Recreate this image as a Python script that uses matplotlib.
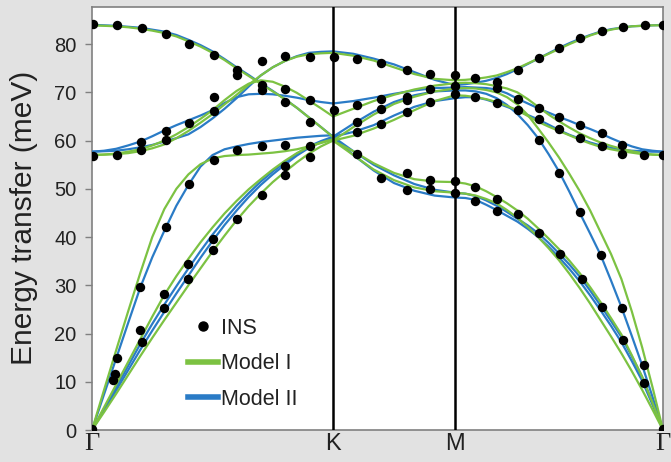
import numpy as np
import matplotlib
matplotlib.use("Agg")
import matplotlib.pyplot as plt
from matplotlib.lines import Line2D

# ---------------- data ----------------
# path coordinate: Gamma=0, K, M, Gamma=1
K_POS = 0.4221
M_POS = 0.6357
tick_positions = [0.0, K_POS, M_POS, 1.0]
tick_labels = ["\u0393", "K", "M", "\u0393"]

# Model I (green): Gamma-K (21 samples), K-M (7 samples), M-Gamma (21 samples)
m1_GK = [
    [83.9, 83.8, 83.7, 83.5, 83.2, 82.8, 82.3, 81.6, 80.6, 79.5, 78.2, 76.7, 75.0, 73.4, 71.8, 70.2, 68.6, 66.8, 64.8, 62.8, 60.7],
    [57.0, 57.1, 57.2, 57.4, 57.8, 58.4, 59.2, 60.5, 62.0, 63.7, 65.5, 67.5, 69.5, 71.6, 73.5, 75.2, 76.5, 77.4, 77.9, 78.1, 78.2],
    [57.0, 57.1, 57.3, 57.7, 58.2, 59.0, 60.0, 61.3, 62.8, 64.5, 66.3, 68.4, 70.3, 71.8, 72.5, 72.2, 71.2, 69.9, 68.3, 66.7, 65.0],
    [0.0, 8.3, 16.5, 24.6, 32.5, 40.0, 45.8, 50.0, 53.0, 55.1, 56.3, 56.8, 57.0, 57.1, 57.3, 57.5, 57.8, 58.2, 58.8, 59.5, 60.2],
    [0.0, 4.7, 9.4, 14.1, 18.8, 23.5, 28.0, 31.9, 35.5, 38.9, 42.0, 44.9, 47.5, 49.9, 52.0, 54.0, 55.8, 57.4, 58.7, 59.6, 60.3],
    [0.0, 3.7, 7.5, 11.4, 15.3, 19.1, 22.8, 26.4, 30.0, 33.5, 37.0, 40.3, 43.5, 46.4, 49.0, 51.4, 53.5, 55.5, 57.3, 58.8, 60.0],
]
m1_KM = [
    [78.2, 77.6, 76.6, 75.2, 73.8, 72.8, 72.5],
    [65.0, 66.6, 68.2, 69.5, 70.6, 71.4, 71.9],
    [60.0, 62.8, 65.4, 67.6, 69.1, 70.2, 70.8],
    [60.0, 61.0, 62.5, 64.3, 66.3, 68.2, 69.4],
    [60.0, 57.8, 55.3, 53.3, 52.0, 51.5, 51.4],
    [60.0, 57.0, 54.0, 51.8, 50.3, 49.5, 49.2],
]
m1_MG = [
    [72.5, 72.6, 72.8, 73.1, 73.5, 74.2, 75.0, 76.0, 77.0, 78.0, 79.0, 80.0, 80.9, 81.8, 82.5, 83.0, 83.4, 83.7, 83.8, 83.9, 83.9],
    [71.9, 72.0, 71.9, 71.7, 71.3, 70.8, 70.0, 68.6, 67.0, 65.4, 64.0, 62.7, 61.5, 60.5, 59.6, 58.9, 58.3, 57.8, 57.4, 57.1, 57.0],
    [69.4, 69.3, 69.0, 68.6, 68.0, 67.2, 66.3, 65.1, 63.9, 62.9, 62.0, 61.1, 60.2, 59.4, 58.7, 58.2, 57.8, 57.5, 57.2, 57.1, 57.0],
    [70.8, 70.9, 70.8, 70.5, 70.0, 69.0, 67.5, 65.3, 62.5, 59.6, 56.5, 53.1, 49.5, 45.5, 41.0, 36.5, 31.3, 24.6, 17.1, 8.8, 0.0],
    [51.4, 51.1, 50.5, 49.5, 48.3, 47.0, 45.5, 43.8, 41.8, 39.7, 37.5, 35.1, 32.5, 29.6, 26.5, 23.2, 19.8, 15.5, 11.0, 5.6, 0.0],
    [49.2, 49.0, 48.6, 47.9, 47.0, 45.6, 44.0, 42.1, 40.0, 37.7, 35.2, 32.4, 29.4, 26.2, 22.8, 19.4, 15.9, 12.2, 8.3, 4.2, 0.0],
]

# Model II (blue)
m2_GK = [
    [84.0, 83.9, 83.8, 83.6, 83.4, 83.0, 82.6, 81.9, 80.9, 79.8, 78.5, 76.9, 75.2, 73.6, 71.9, 70.3, 68.6, 66.8, 64.8, 62.8, 60.8],
    [57.7, 57.8, 57.9, 58.2, 58.6, 59.1, 59.8, 60.5, 61.3, 62.8, 64.6, 66.6, 68.8, 71.2, 73.5, 75.2, 76.5, 77.5, 78.2, 78.4, 78.5],
    [57.7, 57.9, 58.3, 59.0, 59.8, 60.9, 62.1, 63.2, 64.2, 65.2, 66.3, 67.8, 69.0, 69.6, 69.7, 69.6, 69.3, 68.9, 68.4, 68.0, 67.7],
    [0.0, 7.4, 14.8, 22.2, 29.5, 35.8, 41.3, 46.5, 50.8, 54.6, 57.0, 58.2, 58.8, 59.3, 59.7, 60.0, 60.3, 60.6, 60.8, 61.0, 61.1],
    [0.0, 4.4, 8.8, 13.3, 17.8, 22.0, 26.0, 29.8, 33.5, 37.1, 40.5, 43.6, 46.5, 49.1, 51.5, 53.6, 55.5, 57.3, 58.8, 59.9, 60.8],
    [0.0, 4.1, 8.2, 12.4, 16.6, 20.6, 24.5, 28.3, 32.0, 35.7, 39.2, 42.5, 45.5, 48.3, 50.8, 53.0, 55.0, 56.9, 58.5, 59.7, 60.6],
]
m2_KM = [
    [78.5, 78.0, 77.0, 75.8, 74.2, 72.6, 71.5],
    [67.7, 68.2, 68.9, 69.7, 70.4, 70.9, 71.0],
    [60.8, 63.5, 66.0, 68.0, 69.4, 70.2, 70.4],
    [60.8, 61.8, 63.2, 65.2, 67.0, 68.2, 68.8],
    [60.8, 57.8, 55.0, 52.8, 51.0, 49.8, 49.2],
    [60.8, 57.0, 53.8, 51.2, 49.6, 48.6, 48.2],
]
m2_MG = [
    [71.5, 71.7, 72.0, 72.4, 73.0, 73.8, 74.8, 75.9, 77.0, 78.1, 79.2, 80.2, 81.1, 81.9, 82.6, 83.1, 83.4, 83.7, 83.8, 83.9, 84.0],
    [71.0, 71.1, 71.0, 70.9, 70.6, 69.8, 68.7, 67.7, 66.7, 65.8, 64.9, 64.1, 63.2, 62.4, 61.5, 60.5, 59.6, 58.8, 58.2, 57.9, 57.7],
    [68.8, 69.0, 69.0, 68.5, 67.8, 67.0, 66.2, 65.3, 64.4, 63.3, 62.2, 61.2, 60.4, 59.6, 59.0, 58.5, 58.1, 57.9, 57.8, 57.7, 57.7],
    [70.4, 70.4, 70.2, 69.7, 68.8, 67.4, 65.5, 63.2, 60.5, 57.2, 53.6, 49.4, 45.0, 40.7, 36.3, 31.0, 25.5, 19.5, 13.4, 6.8, 0.0],
    [49.2, 49.0, 48.5, 47.6, 46.5, 45.2, 43.8, 42.4, 40.8, 38.8, 36.6, 34.3, 31.8, 28.9, 25.8, 22.6, 19.3, 15.3, 11.0, 5.6, 0.0],
    [48.2, 48.1, 47.7, 46.7, 45.6, 44.4, 43.2, 41.7, 40.0, 38.0, 35.8, 33.4, 30.8, 27.9, 24.8, 21.6, 18.2, 14.3, 10.2, 5.2, 0.0],
]

# INS data points (path coordinate, energy in meV)
ins_q = [
    0.001, 0.043, 0.087, 0.129, 0.170, 0.214, 0.254, 0.254, 0.297, 0.338, 0.382, 0.423,
    0.297, 0.297, 0.338, 0.338, 0.382, 0.382, 0.423,
    0.001, 0.043, 0.086, 0.086, 0.129, 0.129, 0.170, 0.214, 0.214,
    0.170, 0.214, 0.254, 0.297, 0.338, 0.382, 0.382, 0.338, 0.338, 0.297, 0.254,
    0.212, 0.212, 0.129,
    0.000, 0.037, 0.040, 0.043, 0.084, 0.084, 0.087, 0.126, 0.126, 0.169, 0.169,
    0.4635, 0.507, 0.551, 0.592, 0.636,
    0.4635, 0.4635, 0.4635, 0.4635, 0.507, 0.507, 0.507, 0.551, 0.551, 0.551,
    0.592, 0.592, 0.636, 0.636,
    0.507, 0.551, 0.551, 0.592, 0.592, 0.636, 0.636,
    0.671, 0.709, 0.746, 0.782, 0.817, 0.855, 0.894, 0.930, 0.968, 1.000,
    0.671, 0.709, 0.709, 0.746, 0.746, 0.782, 0.782, 0.817, 0.817, 0.855, 0.855,
    0.893, 0.893, 0.928, 0.928, 0.966, 1.000,
    0.782, 0.817, 0.855, 0.891, 0.928, 0.966, 1.000,
    0.671, 0.671, 0.709, 0.709, 0.746, 0.782, 0.820, 0.858, 0.894, 0.930, 0.967,
]
ins_E = [
    84.1, 83.9, 83.4, 82.2, 80.1, 77.7, 74.6, 73.6, 76.5, 77.5, 77.4, 77.4,
    71.5, 70.5, 70.8, 68.0, 68.4, 63.9, 66.3,
    56.9, 57.1, 59.8, 58.0, 62.0, 60.1, 63.7, 69.1, 66.1,
    50.9, 56.0, 58.0, 58.9, 59.1, 58.9, 56.6, 54.7, 52.9, 48.8, 43.8,
    39.5, 37.3, 42.1,
    0.3, 10.4, 11.7, 15.0, 29.7, 20.7, 18.3, 28.3, 25.2, 34.5, 31.4,
    77.0, 76.0, 74.6, 73.9, 73.6,
    67.4, 63.9, 61.8, 57.2, 68.7, 66.6, 63.5, 69.1, 68.4, 66.0,
    70.8, 68.0, 71.3, 69.6,
    52.2, 53.2, 49.7, 51.8, 50.0, 51.6, 49.2,
    72.9, 72.2, 74.7, 77.2, 79.1, 81.2, 82.7, 83.6, 83.9, 83.9,
    69.1, 71.0, 67.7, 68.7, 66.3, 66.7, 64.4, 64.9, 62.5, 63.2, 60.6,
    61.5, 58.9, 59.1, 57.3, 57.0, 57.0,
    60.1, 53.3, 45.2, 36.3, 25.2, 13.5, 0.3,
    50.3, 47.5, 47.8, 45.4, 44.8, 40.9, 36.5, 31.4, 25.6, 18.7, 9.7,
]

legend_labels = ["INS", "Model I", "Model II"]
GREEN = "#7cc242"
BLUE = "#2a7bc6"

# ---------------- figure ----------------
fig = plt.figure(figsize=(6.71, 4.62), dpi=100, facecolor="#e2e2e2")
ax = fig.add_axes([92 / 671, 1 - 430 / 462, 571 / 671, 423 / 462])
ax.set_facecolor("white")

q_gk = np.linspace(0.0, K_POS, 21)
q_km = np.linspace(K_POS, M_POS, 7)
q_mg = np.linspace(M_POS, 1.0, 21)

def draw_model(segs, color):
    for q, branches in zip((q_gk, q_km, q_mg), segs):
        for b in branches:
            ax.plot(q, b, color=color, lw=1.6, solid_joinstyle="round",
                    solid_capstyle="round", zorder=3)

draw_model((m2_GK, m2_KM, m2_MG), BLUE)
draw_model((m1_GK, m1_KM, m1_MG), GREEN)

for xv in (K_POS, M_POS):
    ax.axvline(xv, color="black", lw=1.8, zorder=4)

ax.scatter(ins_q, ins_E, s=46, color="black", zorder=5, linewidths=0)

ax.set_xlim(0, 1)
ax.set_ylim(0, 87.7)
ax.set_yticks(np.arange(0, 81, 10))
ax.tick_params(axis="y", direction="out", length=5, width=1, color="#808080",
               pad=6, labelsize=14.5, labelcolor="#222222")
ax.set_yticklabels([str(v) for v in range(0, 81, 10)], family="Liberation Sans")
ax.set_xticks(tick_positions)
ax.set_xticklabels(tick_labels)
ax.tick_params(axis="x", length=0, pad=2, labelcolor="#222222")
for lab, txt in zip(ax.get_xticklabels(), tick_labels):
    if txt == "\u0393":
        lab.set_family("Liberation Serif")
        lab.set_fontsize(19)
    else:
        lab.set_family("Liberation Sans")
        lab.set_fontsize(17)

for sp in ax.spines.values():
    sp.set_color("#808080")
    sp.set_linewidth(1.2)

fig.text(24 / 671, 1 - 218 / 462, "Energy transfer (meV)", rotation=90,
         ha="center", va="center", fontsize=21.5, family="Liberation Sans",
         color="#222222")

handles = [
    Line2D([], [], marker="o", ls="none", color="black", markersize=6.5),
    Line2D([], [], color=GREEN, lw=4),
    Line2D([], [], color=BLUE, lw=4),
]
leg = ax.legend(handles, legend_labels, loc="upper left",
                bbox_to_anchor=((188 - 92) / 571, (430 - 318) / 423),
                frameon=False, handlelength=1.4, handletextpad=0.12,
                labelspacing=0.67, borderpad=0, borderaxespad=0,
                prop={"family": "Liberation Sans", "size": 15.5})
for t in leg.get_texts():
    t.set_color("#222222")

fig.savefig("out.png", dpi=100, facecolor=fig.get_facecolor())
